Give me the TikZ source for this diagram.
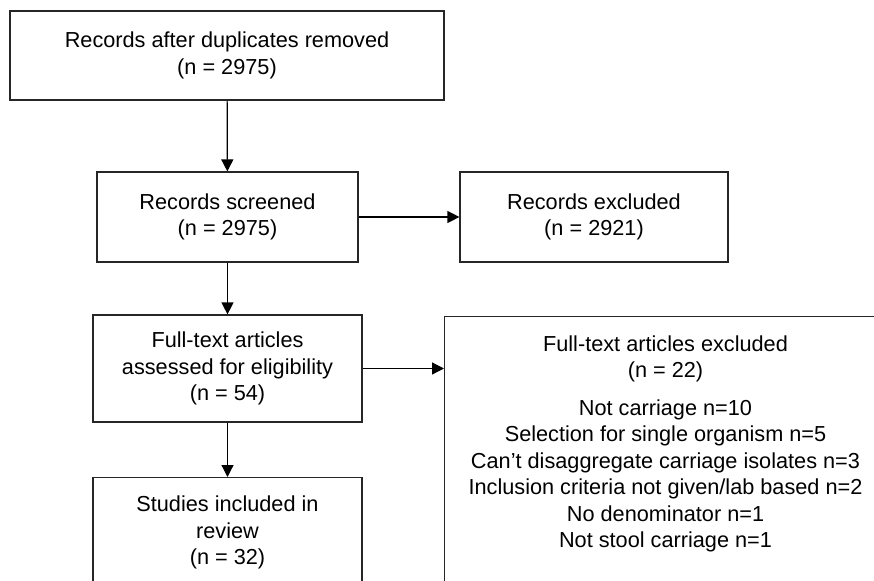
\documentclass[tikz,border=0pt]{standalone}
\usepackage{fontspec}
\setmainfont{Liberation Sans}
\usetikzlibrary{arrows.meta}
\tikzset{
  box/.style={draw=black!85, line width=1.2pt, rectangle, align=center, inner sep=0pt,
    font=\fontsize{21.7}{26.5}\selectfont},
  txt/.style={align=center, inner sep=0pt, font=\fontsize{21.7}{26.5}\selectfont},
  arr/.style={draw=black, line width=1.2pt, -{Triangle[length=12pt,width=12pt]}}
}
\begin{document}
\begin{tikzpicture}[x=1pt,y=-1pt]
\useasboundingbox (0,0) rectangle (874,580);
\clip (0,0) rectangle (874,580);
\node[box, minimum width=434pt, minimum height=89pt] (b1) at (227,55.5)
  {Records after duplicates removed\\(n = 2975)};
\node[box, minimum width=261pt, minimum height=90pt] (b2) at (227.5,217)
  {Records screened\\(n = 2975)};
\node[box, minimum width=269pt, minimum height=107pt] (b3) at (227.5,368.5)
  {Full-text articles\\assessed for eligibility\\(n = 54)};
\node[box, minimum width=269pt, minimum height=110pt, anchor=north] (b4) at (227.5,477)
  {Studies included in\\review\\(n = 32)};
\node[box, minimum width=268pt, minimum height=90pt] (ex1) at (594,217)
  {Records excluded\\(n = 2921)};
\node[box, minimum width=450pt, minimum height=300pt, anchor=north west] (ex2) at (444,316) {};
\node[txt] (ex2t) at (665.5,444)
  {Full-text articles excluded\\(n = 22)\\[11pt]
   Not carriage n=10\\
   Selection for single organism n=5\\
   Can’t disaggregate carriage isolates n=3\\
   Inclusion criteria not given/lab based n=2\\
   No denominator n=1\\
   Not stool carriage n=1};
\draw[arr] (b1) -- (b2);
\draw[arr] (b2) -- (b3);
\draw[arr] (b3) -- (b4);
\draw[arr] (b2) -- (ex1);
\draw[arr] (b3.east) -- (b3.east -| ex2.west);
\end{tikzpicture}
\end{document}
